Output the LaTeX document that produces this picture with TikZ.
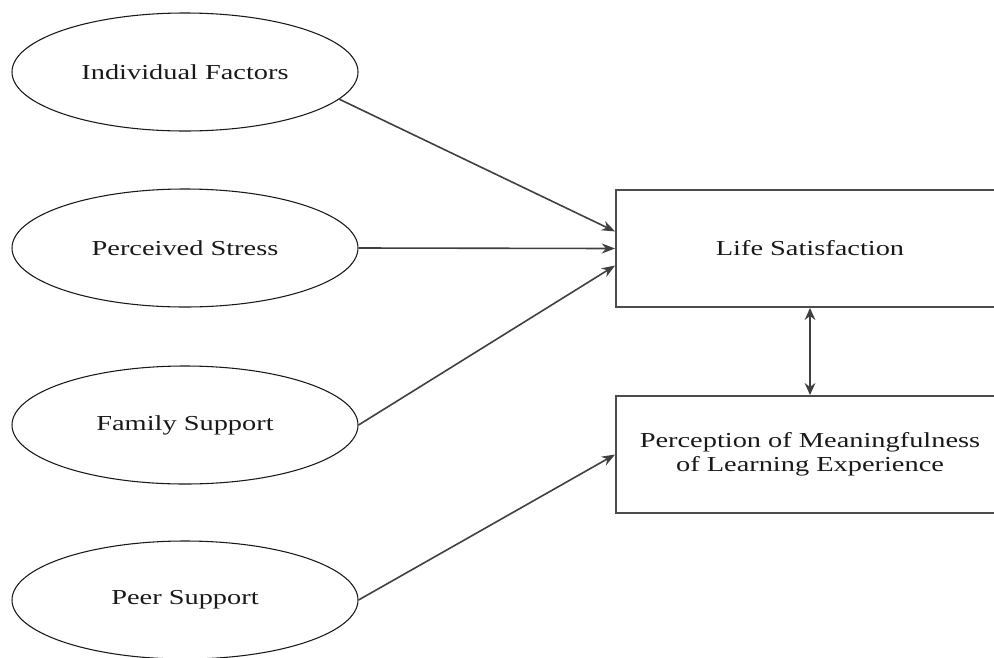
\documentclass[tikz,border=0pt]{standalone}
\usepackage{fontspec}
\setmainfont{Liberation Serif}[FakeStretch=1.33]
\usetikzlibrary{arrows.meta,shapes.geometric}

\tikzset{
  latent/.style={draw=black!90, line width=0.8pt, ellipse, minimum width=259.5pt, minimum height=88.5pt, inner sep=0pt, font=\fontsize{16}{18}\selectfont, text=black!90},
  outcome/.style={draw=black!70, line width=1.4pt, rectangle, minimum width=291pt, minimum height=87.75pt, inner sep=0pt, align=center, font=\fontsize{16}{18}\selectfont, text=black!90},
  effect/.style={draw=black!75, line width=1.2pt, -{Stealth[length=10pt,width=7.5pt]}},
  corr/.style={draw=black!75, line width=1.5pt, {Stealth[length=9pt,width=8pt]}-{Stealth[length=9pt,width=8pt]}}
}

\begin{document}
\begin{tikzpicture}[x=0.75pt,y=0.75pt,yscale=-1,xscale=1]
\useasboundingbox (0,0) rectangle (994,657);

% Ellipses
\node [latent] (indiv) at (185,72) {Individual Factors};
\node [latent] (stress) at (185,248) {Perceived Stress};
\node [latent] (family) at (185,425) {Family Support};
\node [latent] (peer) at (185,600) {Peer Support};

% Boxes
\node [outcome] (life) at (810,248.5) {Life Satisfaction};
\node [outcome] (mean) at (810,454.5) {Perception of Meaningfulness\\of Learning Experience};

%Straight Lines
\draw [effect] (indiv.-10) -- (life.175);
\draw [effect] (stress.east) -- (life.west);
\draw [effect] (family.east) -- (life.185);
\draw [effect] (peer.east) -- (mean.west);
\draw [corr] (life.south) -- (mean.north);

\end{tikzpicture}
\end{document}
